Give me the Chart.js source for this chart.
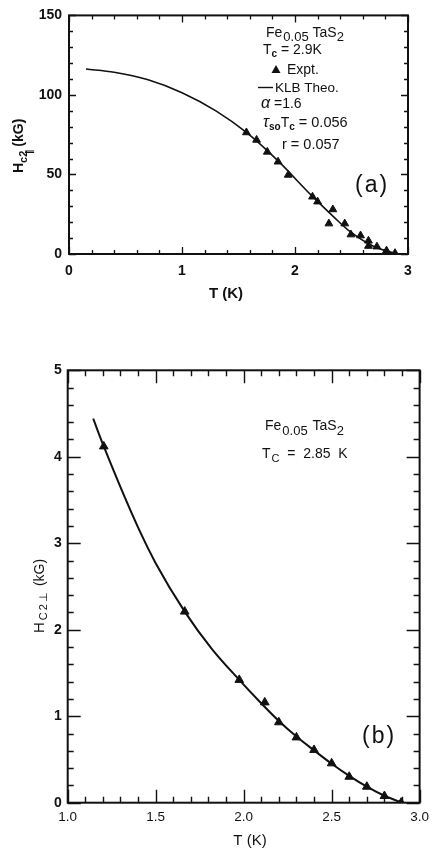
<!DOCTYPE html>
<html><head><meta charset="utf-8">
<script src="https://cdn.jsdelivr.net/npm/chart.js@4.4.1/dist/chart.umd.min.js"></script>
<style>
html,body{margin:0;padding:0;background:#fff;width:435px;height:850px;overflow:hidden;}
#a{position:absolute;left:0;top:0;}
#b{position:absolute;left:0;top:330px;}
</style></head><body>
<canvas id="a" width="435" height="320"></canvas>
<canvas id="b" width="435" height="520"></canvas>
<script>
// ---- Panel (a): H_c2 parallel vs T ----
const aExptT = [1.57, 1.66, 1.755, 1.85, 1.94, 2.155, 2.20, 2.335, 2.30, 2.44, 2.495, 2.58, 2.65, 2.65, 2.725, 2.81, 2.885];
const aExptH = [76.4, 71.7, 64.2, 58.0, 49.7, 36.0, 32.9, 28.0, 19.1, 19.1, 12.2, 11.6, 8.3, 5.0, 4.6, 2.1, 0.5];
const aTheoT = [0.15, 0.40, 0.70, 1.00, 1.30, 1.57, 1.85, 2.15, 2.34, 2.48, 2.69, 2.90];
const aTheoH = [116.3, 114.3, 109.5, 101.4, 90.0, 76.4, 58.5, 36.5, 23.5, 14.5, 5.0, 0];
const aXTicks = [0, 1, 2, 3];
const aYTicks = [0, 50, 100, 150];

// ---- Panel (b): H_c2 perpendicular vs T ----
const bExptT = [1.205, 1.665, 1.975, 2.12, 2.20, 2.30, 2.40, 2.50, 2.60, 2.70, 2.80, 2.895];
const bExptH = [4.12, 2.21, 1.42, 1.16, 0.93, 0.755, 0.61, 0.455, 0.30, 0.185, 0.077, 0.0];
const bTheoT = [1.145, 1.205, 1.405, 1.50, 1.665, 1.82, 1.975, 2.09, 2.20, 2.30, 2.40, 2.50, 2.60, 2.70, 2.80, 2.90];
const bTheoH = [4.44, 4.12, 3.16, 2.77, 2.21, 1.776, 1.42, 1.17, 0.945, 0.765, 0.605, 0.45, 0.31, 0.185, 0.08, 0.0];
const bXTicks = ['1.0', '1.5', '2.0', '2.5', '3.0'];
const bYTicks = [0, 1, 2, 3, 4, 5];

const FF = '"Liberation Sans", Arial, Helvetica, sans-serif';
const INK = '#111';

function pts(xs, ys) { return xs.map((x, i) => ({x: x, y: ys[i]})); }

function rich(ctx, x, y, parts) {
  let cx = x;
  for (const p of parts) {
    ctx.font = p.f;
    ctx.fillText(p.t, cx + (p.dx || 0), y + (p.dy || 0));
    cx += ctx.measureText(p.t).width + (p.dx || 0) + (p.gap || 0);
  }
}

function framePlugin(o) {
  return {
    id: 'frame',
    afterDatasetsDraw(chart) {
      const ctx = chart.ctx, ca = chart.chartArea, x = chart.scales.x, y = chart.scales.y;
      ctx.save();
      ctx.strokeStyle = INK;
      ctx.lineWidth = o.tickW;
      ctx.beginPath();
      const nx = Math.round((x.max - x.min) / o.xMinor);
      for (let i = 0; i <= nx; i++) {
        const v = x.min + i * o.xMinor;
        const r = (v - x.min) / o.xMajor;
        const L = Math.abs(r - Math.round(r)) < 1e-6 ? o.majL : o.minL;
        const px = Math.round(x.getPixelForValue(v)) + 0.5;
        ctx.moveTo(px, ca.bottom); ctx.lineTo(px, ca.bottom - L);
        ctx.moveTo(px, ca.top); ctx.lineTo(px, ca.top + L);
      }
      const ny = Math.round((y.max - y.min) / o.yMinor);
      for (let i = 0; i <= ny; i++) {
        const v = y.min + i * o.yMinor;
        const r = (v - y.min) / o.yMajor;
        const L = Math.abs(r - Math.round(r)) < 1e-6 ? o.majL : o.minL;
        const py = Math.round(y.getPixelForValue(v)) + 0.5;
        ctx.moveTo(ca.left, py); ctx.lineTo(ca.left + L, py);
        ctx.moveTo(ca.right, py); ctx.lineTo(ca.right - L, py);
      }
      ctx.stroke();
      ctx.lineWidth = o.frameW;
      ctx.strokeRect(ca.left, ca.top, ca.right - ca.left, ca.bottom - ca.top);
      ctx.fillStyle = INK;
      ctx.textBaseline = 'alphabetic';
      ctx.textAlign = 'left';
      o.texts(ctx, chart);
      ctx.restore();
    }
  };
}

// ---------- Chart (a) ----------
new Chart(document.getElementById('a'), {
  type: 'scatter',
  data: {
    datasets: [
      {label: 'KLB Theo.', data: pts(aTheoT, aTheoH), showLine: true, pointRadius: 0,
       borderColor: INK, borderWidth: 1.6, cubicInterpolationMode: 'monotone', fill: false},
      {label: 'Expt.', data: pts(aExptT, aExptH), showLine: false, pointStyle: 'triangle',
       pointRadius: 4.5, backgroundColor: INK, borderColor: INK, borderWidth: 1}
    ]
  },
  options: {
    responsive: false, animation: false,
    layout: {padding: {top: 13, right: 27, left: 0, bottom: 0}},
    plugins: {legend: {display: false}, tooltip: {enabled: false}},
    scales: {
      x: {type: 'linear', min: 0, max: 3,
          afterFit: s => { s.height = 66; },
          afterBuildTicks: s => { s.ticks = aXTicks.map(v => ({value: v})); },
          grid: {display: false, drawTicks: false}, border: {display: false},
          ticks: {padding: 9, color: INK, font: {family: FF, size: 14, weight: 'bold'}, maxRotation: 0,
                  callback: v => String(v)}},
      y: {type: 'linear', min: 0, max: 150,
          afterFit: s => { s.width = 69; },
          afterBuildTicks: s => { s.ticks = aYTicks.map(v => ({value: v})); },
          grid: {display: false, drawTicks: false}, border: {display: false},
          ticks: {padding: 7, color: INK, font: {family: FF, size: 14, weight: 'bold'},
                  callback: v => String(v)}}
    }
  },
  plugins: [framePlugin({
    xMinor: 0.2, xMajor: 1, yMinor: 10, yMajor: 50, majL: 7, minL: 4, tickW: 1.3, frameW: 2,
    texts(ctx) {
      const f14 = '14px ' + FF, f12 = '13px ' + FF;
      rich(ctx, 266, 37, [{t: 'Fe', f: f14}, {t: '0.05', f: f12, dy: 4, dx: 1}, {t: ' TaS', f: f14}, {t: '2', f: f12, dy: 4}]);
      rich(ctx, 263, 54, [{t: 'T', f: f14}, {t: 'c', f: 'bold 10px ' + FF, dy: 3}, {t: ' = 2.9K', f: f14}]);
      // legend: triangle + Expt.
      ctx.beginPath();
      ctx.moveTo(276, 65); ctx.lineTo(280.5, 73); ctx.lineTo(271.5, 73); ctx.closePath(); ctx.fill();
      rich(ctx, 287, 74, [{t: 'Expt.', f: f14}]);
      // legend: line + KLB Theo.
      ctx.lineWidth = 1.4;
      ctx.beginPath(); ctx.moveTo(258, 87.5); ctx.lineTo(273, 87.5); ctx.stroke();
      rich(ctx, 275, 92, [{t: 'KLB Theo.', f: '13.5px ' + FF}]);
      rich(ctx, 261, 108, [{t: 'α', f: 'italic 16px ' + FF}, {t: ' =1.6', f: f14}]);
      rich(ctx, 263, 127, [{t: 'τ', f: 'italic 16px ' + FF}, {t: 'so', f: 'bold 10px ' + FF, dy: 3}, {t: 'T', f: f14}, {t: 'c', f: 'bold 10px ' + FF, dy: 3}, {t: ' = 0.056', f: '14.5px ' + FF}]);
      rich(ctx, 282, 149, [{t: 'r = 0.057', f: '14.5px ' + FF}]);
      rich(ctx, 355, 192, [{t: '(', f: '23px ' + FF}, {t: 'a', f: '23px ' + FF, dx: 2}, {t: ')', f: '23px ' + FF, dx: 2}]);
      // x title
      ctx.textAlign = 'center';
      ctx.font = 'bold 15px ' + FF;
      ctx.fillText('T (K)', 226, 298);
      ctx.textAlign = 'left';
      // y title (rotated)
      ctx.save();
      ctx.translate(23, 173);
      ctx.rotate(-Math.PI / 2);
      rich(ctx, 0, 0, [{t: 'H', f: 'bold 14px ' + FF}, {t: 'c2', f: 'bold 11px ' + FF, dy: 4},
                       {t: '∥', f: 'bold 9px ' + FF, dy: 9, dx: -3}, {t: '(kG)', f: 'bold 14px ' + FF, dx: 2}]);
      ctx.restore();
    }
  })]
});

// ---------- Chart (b) ----------
new Chart(document.getElementById('b'), {
  type: 'scatter',
  data: {
    datasets: [
      {label: 'Theory', data: pts(bTheoT, bTheoH), showLine: true, pointRadius: 0,
       borderColor: INK, borderWidth: 2, cubicInterpolationMode: 'monotone', fill: false},
      {label: 'Expt.', data: pts(bExptT, bExptH), showLine: false, pointStyle: 'triangle',
       pointRadius: 5, backgroundColor: INK, borderColor: INK, borderWidth: 1}
    ]
  },
  options: {
    responsive: false, animation: false,
    layout: {padding: {top: 40.3, right: 11, left: 0, bottom: 0}},
    plugins: {legend: {display: false}, tooltip: {enabled: false}},
    scales: {
      x: {type: 'linear', min: 1, max: 3,
          afterFit: s => { s.height = 47.3; },
          afterBuildTicks: s => { s.ticks = bXTicks.map(v => ({value: parseFloat(v)})); },
          grid: {display: false, drawTicks: false}, border: {display: false},
          ticks: {padding: 6, color: INK, font: {family: FF, size: 13.5}, maxRotation: 0,
                  callback: (v, i) => bXTicks[i]}},
      y: {type: 'linear', min: 0, max: 5,
          afterFit: s => { s.width = 67.7; },
          afterBuildTicks: s => { s.ticks = bYTicks.map(v => ({value: v})); },
          grid: {display: false, drawTicks: false}, border: {display: false},
          ticks: {padding: 6, color: INK, font: {family: FF, size: 14, weight: 'bold'},
                  callback: v => String(v)}}
    }
  },
  plugins: [framePlugin({
    xMinor: 0.1, xMajor: 0.5, yMinor: 0.2, yMajor: 1, majL: 13, minL: 6, tickW: 1.4, frameW: 2,
    texts(ctx) {
      const f14 = '14px ' + FF, f13 = '13px ' + FF;
      rich(ctx, 265, 100, [{t: 'Fe', f: f14}, {t: '0.05', f: f13, dy: 5, dx: 1}, {t: ' TaS', f: f14, dx: 1}, {t: '2', f: f13, dy: 5}]);
      rich(ctx, 262, 128, [{t: 'T', f: f14}, {t: 'C', f: '11px ' + FF, dy: 4, dx: 1}, {t: '  =  2.85  K', f: f14}]);
      rich(ctx, 362, 413, [{t: '(', f: '23px ' + FF}, {t: 'b', f: '23px ' + FF, dx: 2}, {t: ')', f: '23px ' + FF, dx: 2}]);
      ctx.textAlign = 'center';
      ctx.font = '15px ' + FF;
      ctx.fillText('T (K)', 250, 515);
      ctx.textAlign = 'left';
      ctx.save();
      ctx.translate(44, 303);
      ctx.rotate(-Math.PI / 2);
      rich(ctx, 0, 0, [{t: 'H', f: '15px ' + FF, gap: 2}, {t: 'C', f: '11px ' + FF, dy: 3, gap: 2},
                       {t: '2', f: '11px ' + FF, dy: 3, gap: 2}, {t: '⊥', f: '11px ' + FF, dy: 3, gap: 6},
                       {t: '(kG)', f: '14px ' + FF}]);
      ctx.restore();
    }
  })]
});
</script>
</body></html>
